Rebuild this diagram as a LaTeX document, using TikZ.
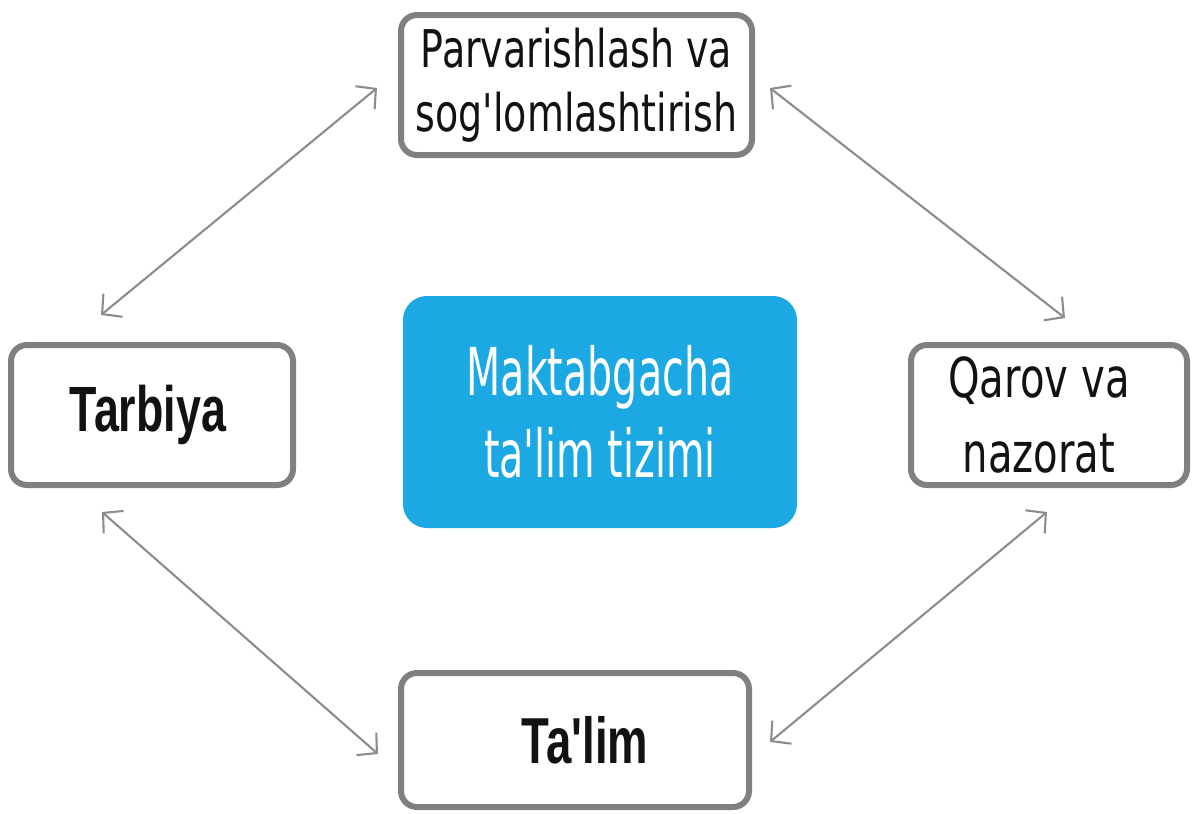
\documentclass[tikz,border=0pt]{standalone}
\usepackage{fontspec}
\setmainfont{DejaVu Sans}
\newfontfamily\sidefont{DejaVu Sans}[FakeStretch=0.73]
\newfontfamily\midfont{DejaVu Sans}[FakeStretch=0.6]
\newfontfamily\heavyfont{Liberation Sans}[FakeStretch=0.7]
\usetikzlibrary{arrows.meta}
\definecolor{boxgray}{HTML}{808080}
\definecolor{linkgray}{HTML}{8C8C8C}
\definecolor{skyblue}{HTML}{1BA8E3}

\begin{document}
\begin{tikzpicture}[x=1pt, y=-1pt,
	box/.style={draw=boxgray, line width=6pt, rounded corners=16pt, fill=white, align=center, text=black!93, inner sep=0pt},
	link/.style={draw=linkgray, line width=2.1pt, <->, >={Straight Barb[length=14pt, width=30pt]}}]

\useasboundingbox (0,0) rectangle (1192,814);

% centre
\node[fill=skyblue, rounded corners=24pt, minimum width=394pt, minimum height=232pt, align=center, text=white,
	font=\midfont\fontsize{66}{82}\selectfont] (tizim) at (600,412) {Maktabgacha\\ta'lim tizimi};

% four boxes
\node[box, minimum width=351pt, minimum height=140pt, font=\sidefont\fontsize{52}{64}\selectfont]
	(parvarish) at (576.5,85) {Parvarishlash va\\sog'lomlashtirish};
\node[box, minimum width=282pt, minimum height=140pt, font=\heavyfont\bfseries\fontsize{64}{76}\selectfont]
	(tarbiya) at (152,415) {Tarbiya\hspace*{8pt}};
\node[box, minimum width=276pt, minimum height=140pt, font=\sidefont\fontsize{55}{75}\selectfont]
	(qarov) at (1049,415) {Qarov va\hspace*{20pt}\\nazorat\hspace*{20pt}};
\node[box, minimum width=348pt, minimum height=134pt, font=\heavyfont\bfseries\fontsize{65}{76}\selectfont]
	(talim) at (575,740) {\hspace*{20pt}Ta'lim};

% links
\draw[link] ([xshift=-51pt, yshift=27pt]tarbiya.north) -- ([xshift=-21pt, yshift=-3pt]parvarish.west);
\draw[link] ([xshift=15pt, yshift=-3pt]parvarish.east) -- ([xshift=16pt, yshift=24pt]qarov.north);
\draw[link] ([xshift=-50pt, yshift=-24pt]tarbiya.south) -- ([xshift=-20pt, yshift=-14pt]talim.west);
\draw[link] ([xshift=-2pt, yshift=-24pt]qarov.south) -- ([xshift=18pt, yshift=-2pt]talim.east);

\end{tikzpicture}
\end{document}
